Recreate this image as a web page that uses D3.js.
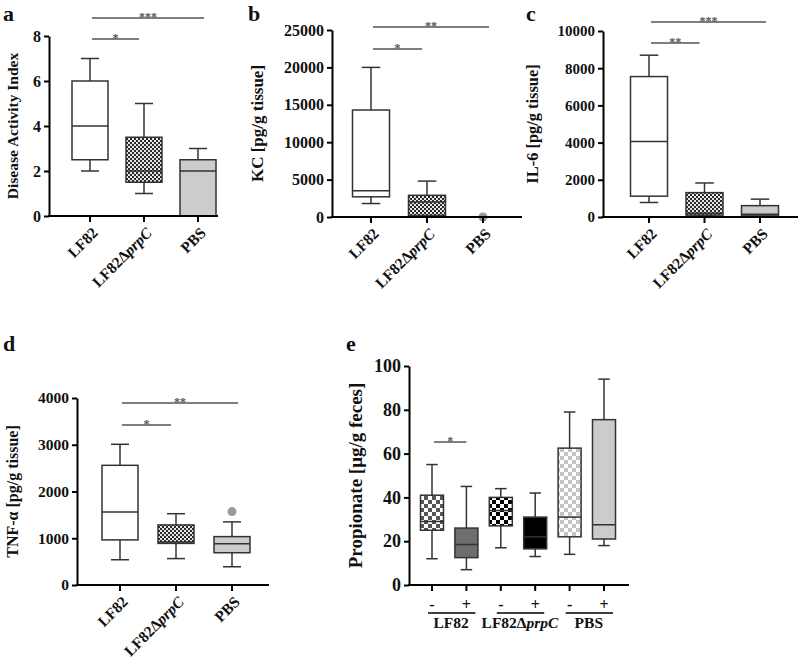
<!DOCTYPE html>
<html><head><meta charset="utf-8">
<script src="https://cdn.jsdelivr.net/npm/d3@7"></script>
<style>
body{margin:0;background:#fff}
text{font-family:"Liberation Serif","Times New Roman",serif;font-weight:bold;fill:#111}
</style>
</head><body><svg id="chart" width="800" height="659"></svg>
<script>
// ---------------- DATA ----------------
const groups = ["LF82", "LF82ΔprpC", "PBS"];
// each box: [whisker low, Q1, median, Q3, whisker high]
const daiBoxes = [[2, 2.5, 4, 6, 7], [1, 1.5, 2, 3.5, 5], [0, 0, 2, 2.5, 3]];
const daiTicks = [0, 2, 4, 6, 8];
const daiSig = [["LF82", "PBS", "***", 8.8], ["LF82", "LF82ΔprpC", "*", 7.87]];

const kcBoxes = [[1800, 2700, 3500, 14300, 20000], [0, 200, 2000, 2900, 4800], null];
const kcOutliers = [[], [], [0]];
const kcTicks = [0, 5000, 10000, 15000, 20000, 25000];
const kcSig = [["LF82", "PBS", "**", 25400], ["LF82", "LF82ΔprpC", "*", 22460]];

const il6Boxes = [[780, 1120, 4060, 7550, 8700], [80, 100, 200, 1310, 1830], [50, 60, 150, 610, 960]];
const il6Ticks = [0, 2000, 4000, 6000, 8000, 10000];
const il6Sig = [["LF82", "PBS", "***", 10480], ["LF82", "LF82ΔprpC", "**", 9355]];

const tnfBoxes = [[540, 965, 1560, 2560, 3010], [565, 890, 920, 1285, 1525], [390, 690, 885, 1035, 1350]];
const tnfOutliers = [[], [], [1570]];
const tnfTicks = [0, 1000, 2000, 3000, 4000];
const tnfSig = [["LF82", "PBS", "**", 3893], ["LF82", "LF82ΔprpC", "*", 3422]];

const propCats = ["LF82 -", "LF82 +", "LF82ΔprpC -", "LF82ΔprpC +", "PBS -", "PBS +"];
const propSigns = ["-", "+", "-", "+", "-", "+"];
const propGroups = ["LF82", "LF82ΔprpC", "PBS"];
const propBoxes = [[12, 25, 29, 41, 55], [7, 12.5, 18.5, 26, 45], [17, 27, 34, 40, 44],
                   [13, 16.5, 22, 31, 42], [14, 22, 31, 62.5, 79], [18, 21, 27.5, 75.5, 94]];
const propTicks = [0, 20, 40, 60, 80, 100];
const propSig = [["LF82 -", "LF82 +", "*", 65.3]];

// ---------------- STYLE / LAYOUT ----------------
const svg = d3.select("#chart");
const defs = svg.append("defs");
function checker(id, cell, dark, light) {
  const p = defs.append("pattern").attr("id", id).attr("patternUnits", "userSpaceOnUse")
    .attr("width", cell * 2).attr("height", cell * 2);
  p.append("rect").attr("width", cell * 2).attr("height", cell * 2).attr("fill", light);
  p.append("rect").attr("width", cell).attr("height", cell).attr("fill", dark);
  p.append("rect").attr("x", cell).attr("y", cell).attr("width", cell).attr("height", cell).attr("fill", dark);
}
checker("fine", 2, "#2a2a2a", "#e6e6e6");
checker("chkDark", 4, "#555", "#fff");
checker("chkBlack", 4, "#000", "#fff");
checker("chkLight", 4, "#c4c4c4", "#fff");

const fillsABCD = ["#ffffff", "url(#fine)", "#cccccc"];
const fillsE = ["url(#chkDark)", "#6e6e6e", "url(#chkBlack)", "#000000", "url(#chkLight)", "#cccccc"];
const boxStroke = "#333";

function labelTspans(sel, name) {
  if (name.indexOf("Δ") >= 0) {
    const i = name.indexOf("Δ") + 1;
    sel.append("tspan").text(name.slice(0, i));
    sel.append("tspan").attr("font-style", "italic").text(name.slice(i));
  } else sel.text(name);
}

function panel(o) {
  const g = svg.append("g");
  const y = d3.scaleLinear().domain([0, o.max]).range([o.y0, o.yTop]);
  const x = d3.scalePoint().domain(o.cats).range(o.centers);
  const bw = o.boxW;

  o.boxes.forEach((b, i) => {
    if (!b) return;
    const cx = x(o.cats[i]);
    const [lo, q1, med, q3, hi] = b;
    const wg = g.append("g").attr("stroke", boxStroke).attr("stroke-width", 1.5).attr("fill", "none");
    wg.append("line").attr("x1", cx).attr("x2", cx).attr("y1", y(q3)).attr("y2", y(hi));
    wg.append("line").attr("x1", cx - bw / 4).attr("x2", cx + bw / 4).attr("y1", y(hi)).attr("y2", y(hi));
    if (lo < q1) {
      wg.append("line").attr("x1", cx).attr("x2", cx).attr("y1", y(q1)).attr("y2", y(lo));
      wg.append("line").attr("x1", cx - bw / 4).attr("x2", cx + bw / 4).attr("y1", y(lo)).attr("y2", y(lo));
    }
    wg.append("rect").attr("x", cx - bw / 2).attr("y", y(q3)).attr("width", bw)
      .attr("height", y(q1) - y(q3)).attr("fill", o.fills[i]);
    wg.append("line").attr("x1", cx - bw / 2).attr("x2", cx + bw / 2).attr("y1", y(med)).attr("y2", y(med));
  });
  if (o.outliers) o.outliers.forEach((arr, i) => arr.forEach(v => {
    g.append("circle").attr("cx", x(o.cats[i])).attr("cy", y(v)).attr("r", 4.5).attr("fill", "#999");
  }));

  const ya = g.append("g").attr("transform", `translate(${o.x0},0)`)
    .call(d3.axisLeft(y).tickValues(o.ticks).tickSize(5).tickSizeOuter(0).tickPadding(3).tickFormat(d3.format("d")));
  ya.select(".domain").attr("stroke", "#000").attr("stroke-width", 2);
  ya.selectAll(".tick line").attr("stroke", "#000").attr("stroke-width", 2);
  ya.selectAll(".tick text").attr("font-size", o.tickFont).attr("font-family", null).style("fill", "#111");

  g.append("line").attr("x1", o.x0 - 1).attr("x2", o.xEnd).attr("y1", o.y0).attr("y2", o.y0)
    .attr("stroke", "#000").attr("stroke-width", 2);
  o.cats.forEach(c => {
    g.append("line").attr("x1", x(c)).attr("x2", x(c)).attr("y1", o.y0).attr("y2", o.y0 + 6)
      .attr("stroke", "#000").attr("stroke-width", 2);
  });

  g.append("text").attr("transform", `translate(${o.ylx},${(o.y0 + o.yTop) / 2}) rotate(-90)`)
    .attr("text-anchor", "middle").attr("dy", "0.35em").attr("font-size", o.ylFont).text(o.ylabel);

  g.append("text").attr("x", o.letterPos[0]).attr("y", o.letterPos[1]).attr("font-size", 22).text(o.letter);

  o.sig.forEach(([a, b, s, v]) => {
    const last = b === o.cats[o.cats.length - 1];
    const x1 = x(a) + 2, x2 = o.short ? x(b) : (last ? x(b) + 6 : x(b) - 5);
    g.append("line").attr("x1", x1).attr("x2", x2).attr("y1", y(v)).attr("y2", y(v))
      .attr("stroke", "#555").attr("stroke-width", 1.5);
    g.append("text").attr("x", (x1 + x2) / 2).attr("y", y(v) + 3).attr("text-anchor", "middle")
      .attr("font-size", 12).attr("font-weight", "normal").style("fill", "#555").text(s);
  });

  if (o.rotated) {
    o.cats.forEach(c => {
      const t = g.append("text").attr("transform", `translate(${x(c) + 5},${o.y0 + 14}) rotate(-45)`)
        .attr("text-anchor", "end").attr("dy", "0.35em").attr("font-size", 15.5);
      labelTspans(t, c);
    });
  }
  return { x, y, g };
}

panel({ cats: groups, boxes: daiBoxes, max: 8, ticks: daiTicks, fills: fillsABCD, sig: daiSig,
  x0: 49, xEnd: 218, y0: 216, yTop: 36, centers: [90, 198], boxW: 36, rotated: true,
  tickFont: 16, ylFont: 15.5,
  ylabel: "Disease Activity Index", ylx: 13, letter: "a", letterPos: [3, 21] });

panel({ cats: groups, boxes: kcBoxes, outliers: kcOutliers, max: 25000, ticks: kcTicks, fills: fillsABCD, sig: kcSig,
  x0: 332, xEnd: 522, y0: 217, yTop: 30, centers: [371, 483], boxW: 37, rotated: true,
  tickFont: 16, ylFont: 17,
  ylabel: "KC [pg/g tissue]", ylx: 257, letter: "b", letterPos: [248, 21] });

panel({ cats: groups, boxes: il6Boxes, max: 10000, ticks: il6Ticks, fills: fillsABCD, sig: il6Sig,
  x0: 603, xEnd: 798, y0: 217, yTop: 31, centers: [649, 760], boxW: 37, rotated: true,
  tickFont: 15, ylFont: 16.4,
  ylabel: "IL-6 [pg/g tissue]", ylx: 532, letter: "c", letterPos: [526, 21] });

panel({ cats: groups, boxes: tnfBoxes, outliers: tnfOutliers, max: 4000, ticks: tnfTicks, fills: fillsABCD, sig: tnfSig,
  x0: 77, xEnd: 269, y0: 585, yTop: 398, centers: [120, 232], boxW: 36, rotated: true,
  tickFont: 15.5, ylFont: 16,
  ylabel: "TNF-α [pg/g tissue]", ylx: 12, letter: "d", letterPos: [3, 351] });

const pe = panel({ cats: propCats, boxes: propBoxes, max: 100, ticks: propTicks, fills: fillsE, sig: propSig,
  x0: 409, xEnd: 629, y0: 585, yTop: 366, centers: [432, 604], boxW: 23, rotated: false, short: true,
  tickFont: 18, ylFont: 19,
  ylabel: "Propionate [μg/g feces]", ylx: 355, letter: "e", letterPos: [346, 351] });

propCats.forEach((c, i) => {
  pe.g.append("text").attr("x", pe.x(c)).attr("y", 610).attr("text-anchor", "middle")
    .attr("font-size", 16).text(propSigns[i]);
});
propGroups.forEach((gname, k) => {
  const a = pe.x(propCats[2 * k]), b = pe.x(propCats[2 * k + 1]);
  pe.g.append("line").attr("x1", a - 4).attr("x2", b + 9).attr("y1", 613).attr("y2", 613)
    .attr("stroke", "#000").attr("stroke-width", 1.5);
  const t = pe.g.append("text").attr("x", (a + b) / 2 + 2).attr("y", 628).attr("text-anchor", "middle")
    .attr("font-size", 15.5);
  labelTspans(t, gname);
});
</script></body></html>
